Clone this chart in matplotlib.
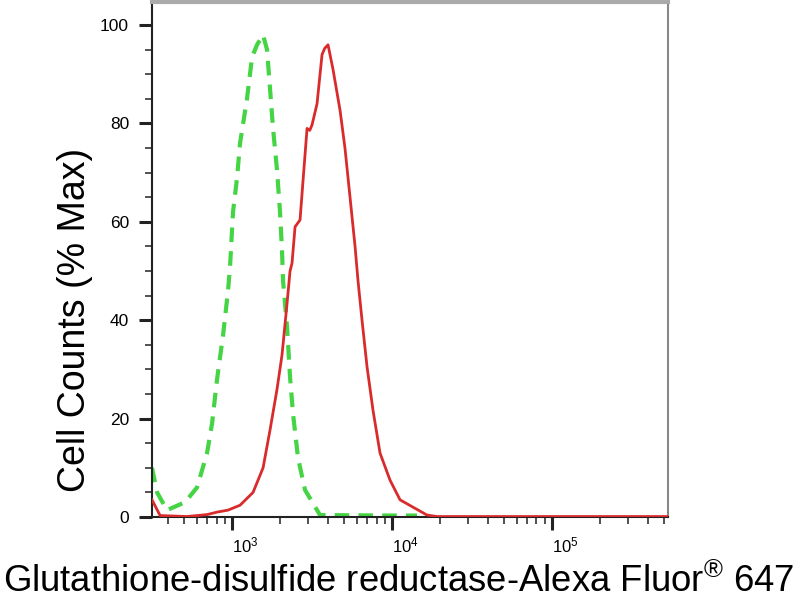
import matplotlib
matplotlib.use('Agg')
import matplotlib.pyplot as plt
from matplotlib.ticker import AutoMinorLocator, LogLocator, NullFormatter, FixedLocator

plt.rcParams['font.family'] = ['Liberation Sans', 'DejaVu Sans']
plt.rcParams['mathtext.fontset'] = 'custom'
plt.rcParams['mathtext.rm'] = 'Liberation Sans'
plt.rcParams['mathtext.it'] = 'Liberation Sans:italic'

# isotype control (green dashed)
green_x = [316, 340, 392, 508, 604, 698, 750, 806, 879, 944, 972, 1014, 1075, 1122,
           1240, 1334, 1433, 1563, 1655, 1728, 1804, 1911, 1995, 2054, 2084, 2208,
           2304, 2405, 2585, 2858, 3548, 9716, 14330]
green_y = [10, 5, 1.4, 3, 6, 13, 19, 28, 37, 46, 51, 62, 69, 76,
           85, 93.5, 96, 98, 95, 87, 79, 70.5, 62, 54, 48, 38.6,
           28.5, 21, 12, 5.5, 0.4, 0.3, 0.3]

# stained sample (red solid)
red_x = [316, 355, 523, 700, 806, 944, 1122, 1353, 1563, 1728, 1911, 2054, 2208,
         2304, 2371, 2477, 2661, 2780, 2944, 3060, 3162, 3398, 3652, 3800, 3981,
         4277, 4732, 5081, 5464, 5875, 6131, 6494, 6982, 7606, 8414, 9716, 11220,
         13530, 16550, 19110, 531000]
red_y = [3.5, 0.3, 0.1, 0.5, 1, 1.4, 2.4, 5, 10, 17.7, 26, 33, 43.5,
         50, 51.6, 59, 60.4, 68.5, 79, 78.6, 79.7, 84, 94, 95.3, 96,
         91, 82.7, 75, 65, 55, 48, 40, 30.5, 21.7, 13, 7.5, 3.5,
         2, 0.4, 0.1, 0.1]

x_range = (316, 531000)
y_range = (0, 104.8)
y_major = [0, 20, 40, 60, 80, 100]
x_major = [1e3, 1e4, 1e5]
x_major_labels = [r'$\mathdefault{10^{3}}$', r'$\mathdefault{10^{4}}$', r'$\mathdefault{10^{5}}$']

fig = plt.figure(figsize=(8, 6), dpi=100)
ax = fig.add_axes([0.19, 0.1383, 0.645, 0.8592])

ax.plot(green_x, green_y, color='#44d444', lw=3, dashes=(3.5, 2.2), zorder=2)
ax.plot(red_x, red_y, color='#d92b2b', lw=2, zorder=3)

ax.set_xscale('log')
ax.set_xlim(*x_range)
ax.set_ylim(*y_range)

ax.xaxis.set_major_locator(FixedLocator(x_major))
ax.set_xticklabels(x_major_labels)
ax.xaxis.set_minor_locator(LogLocator(base=10, subs=range(2, 10)))
ax.xaxis.set_minor_formatter(NullFormatter())
ax.set_yticks(y_major)
ax.yaxis.set_minor_locator(AutoMinorLocator(4))

ax.tick_params(axis='both', which='major', direction='out', length=9.5, width=2.2,
               color='#222222')
ax.tick_params(axis='both', which='minor', direction='out', length=5, width=1.2,
               color='#333333')
ax.tick_params(axis='y', which='major', labelsize=12.5, pad=7)
ax.tick_params(axis='x', which='major', labelsize=12, pad=4)
for lbl in ax.get_xticklabels():
    lbl.set_ha('left')

ax.spines['left'].set_color('#222222')
ax.spines['left'].set_linewidth(1.5)
ax.spines['bottom'].set_color('#222222')
ax.spines['bottom'].set_linewidth(1.5)
ax.spines['top'].set_color('#aaaaaa')
ax.spines['top'].set_linewidth(3)
ax.spines['right'].set_color('#888888')
ax.spines['right'].set_linewidth(1.5)

fig.text(85 / 800, 1 - 320 / 600, 'Cell Counts (% Max)', rotation=90,
         rotation_mode='anchor', ha='center', va='baseline', fontsize=27)
fig.text(399 / 800, 1 - 592 / 600,
         r'Glutathione-disulfide reductase-Alexa Fluor$^{\mathdefault{®}}$ 647',
         ha='center', va='baseline', fontsize=26.3)

fig.savefig('out.png', dpi=100)
